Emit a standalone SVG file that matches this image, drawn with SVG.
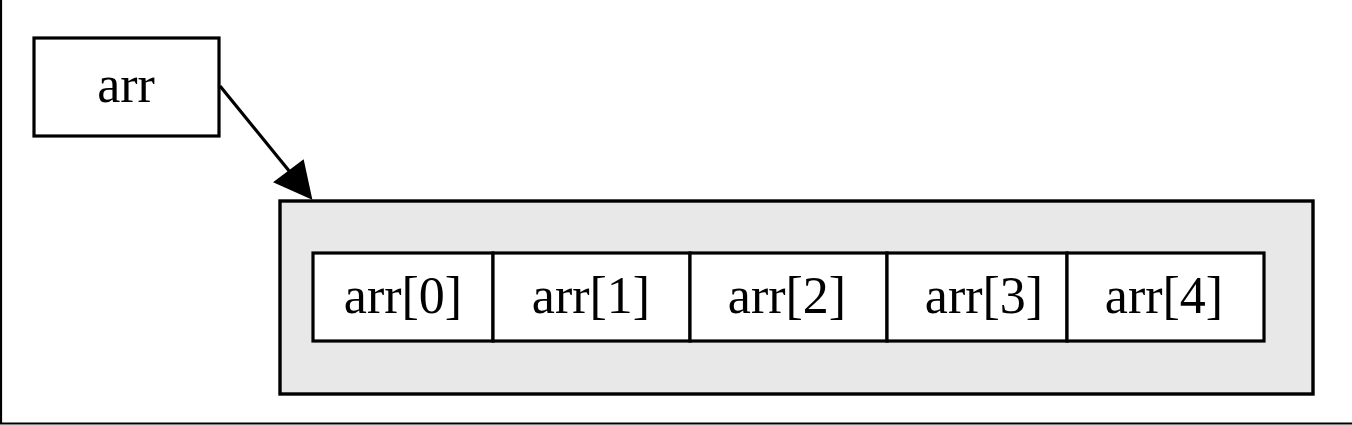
<svg xmlns="http://www.w3.org/2000/svg" width="1352" height="425" viewBox="0 0 1352 425">
<style>
.box{fill:#ffffff;stroke:#000000;stroke-width:3.2}
.cluster{fill:#e8e8e8;stroke:#000000;stroke-width:3.4}
.lbl{font-family:"Liberation Serif","Times New Roman",serif;font-size:52px;fill:#000000;text-anchor:middle}
.edge{stroke:#000000;stroke-width:3.2;fill:none}
.head{fill:#000000;stroke:#000000;stroke-width:2}
</style>
<rect x="0" y="0" width="1352" height="425" fill="#ffffff"/>
<line x1="1" y1="0" x2="1" y2="424" stroke="#000" stroke-width="2.2"/>
<line x1="0" y1="423.5" x2="1352" y2="423.5" stroke="#000" stroke-width="2.2"/>
<g id="arr">
<rect class="box" x="34" y="38" width="185" height="98"/>
<text class="lbl" x="126" y="102">arr</text>
</g>
<g id="array">
<rect class="cluster" x="280" y="201" width="1033" height="193"/>
<g id="cell0"><rect class="box" x="313" y="253" width="180" height="88"/><text class="lbl" x="403" y="313">arr[0]</text></g>
<g id="cell1"><rect class="box" x="493" y="253" width="197" height="88"/><text class="lbl" x="591" y="313">arr[1]</text></g>
<g id="cell2"><rect class="box" x="690" y="253" width="197" height="88"/><text class="lbl" x="787" y="313">arr[2]</text></g>
<g id="cell3"><rect class="box" x="887" y="253" width="180" height="88"/><text class="lbl" x="984" y="313">arr[3]</text></g>
<g id="cell4"><rect class="box" x="1067" y="253" width="197" height="88"/><text class="lbl" x="1164" y="313">arr[4]</text></g>
</g>
<g id="connectors">
<line class="edge" x1="220" y1="86" x2="290" y2="172"/>
<polygon class="head" points="311,198 275,182 303,161"/>
</g>
</svg>
